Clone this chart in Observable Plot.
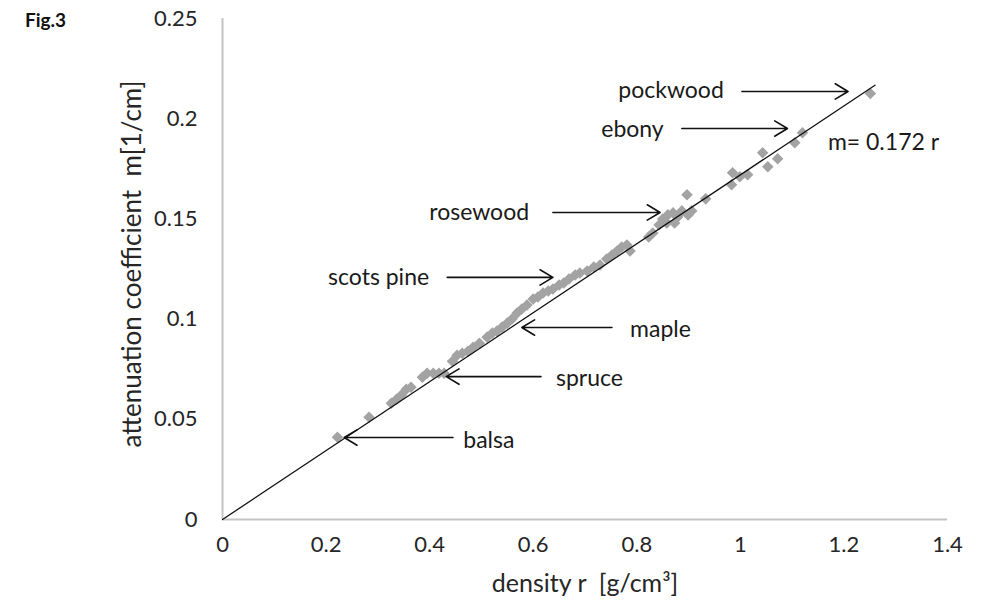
<!DOCTYPE html>
<html>
<head>
<meta charset="utf-8">
<script src="https://cdn.jsdelivr.net/npm/d3@7"></script>
<script src="https://cdn.jsdelivr.net/npm/@observablehq/plot@0.6"></script>
<style>
  body { margin: 0; background: #fff; font-family: Lato, "Open Sans", sans-serif; }
  #wrap { position: relative; width: 991px; height: 605px; }
  #fig { position: absolute; left: 25px; top: 8px; font: bold 19px Lato, sans-serif; color: #111; }
</style>
</head>
<body>
<div id="wrap"><div id="fig">Fig.3</div></div>
<script>
// measured samples: density (g/cm3) and attenuation coefficient (1/cm)
const density = [0.222,0.283,0.326,0.336,0.345,0.355,0.364,0.386,0.395,0.407,0.418,0.428,
  0.444,0.453,0.463,0.474,0.484,0.496,0.511,0.521,0.530,0.540,0.550,0.559,0.569,0.578,
  0.588,0.600,0.609,0.619,0.629,0.638,0.650,0.659,0.669,0.681,0.690,0.704,0.717,0.729,
  0.742,0.752,0.762,0.771,0.781,0.787,0.823,0.831,0.843,0.850,0.860,0.870,0.879,0.887,
  0.899,0.906,0.858,0.873,0.897,0.933,0.985,0.983,0.999,1.014,1.043,1.053,1.072,1.105,
  1.120,1.251];
const atten = [0.041,0.051,0.058,0.060,0.062,0.065,0.066,0.071,0.073,0.073,0.073,0.073,
  0.079,0.082,0.083,0.084,0.086,0.088,0.091,0.093,0.094,0.096,0.098,0.100,0.103,0.105,
  0.107,0.110,0.111,0.113,0.114,0.115,0.117,0.118,0.120,0.122,0.123,0.124,0.126,0.127,
  0.130,0.132,0.134,0.136,0.137,0.134,0.141,0.143,0.147,0.150,0.152,0.153,0.151,0.154,
  0.152,0.154,0.148,0.148,0.162,0.160,0.173,0.167,0.171,0.172,0.183,0.176,0.180,0.188,
  0.193,0.2126];

// fitted line m = 0.172 r
const fitD = [0, 1.26];
const fitM = [0, 0.2167];

// annotations
const woodNames  = ["pockwood","ebony","rosewood","scots pine","maple","spruce","balsa"];
const woodTextD  = [0.968, 0.852, 0.592, 0.399, 0.787, 0.644, 0.465];
const woodTextM  = [0.2138, 0.1946, 0.1532, 0.1208, 0.0945, 0.0705, 0.0395];
const woodAnchor = ["end","end","end","end","start","start","start"];
const arrowD1 = [1.003, 0.887, 0.638, 0.434, 0.752, 0.615, 0.445];
const arrowD2 = [1.208, 1.091, 0.845, 0.638, 0.578, 0.432, 0.235];
const arrowM  = [0.2136, 0.1951, 0.1532, 0.1208, 0.0958, 0.0713, 0.0409];

const eqText = "m= 0.172 r";
const eqD = [1.169], eqM = [0.188];

const xTicks = [0,0.2,0.4,0.6,0.8,1,1.2,1.4];
const yTicks = [0,0.05,0.1,0.15,0.2,0.25];
const xTitle = "density r  [g/cm³]";
const yTitle = "attenuation coefficient  m[1/cm]";

const pts = density.map((d, i) => ({d, m: atten[i]}));
const fit = fitD.map((d, i) => ({d, m: fitM[i]}));
const labels = woodNames.map((n, i) => ({n, d: woodTextD[i], m: woodTextM[i], a: woodAnchor[i]}));
const arrows = woodNames.map((n, i) => ({x1: arrowD1[i], x2: arrowD2[i], y: arrowM[i]}));

const fmt = v => String(v);

const chart = Plot.plot({
  width: 991,
  height: 605,
  marginLeft: 222,
  marginRight: 44,
  marginTop: 18,
  marginBottom: 86,
  style: {fontFamily: "Lato, 'Open Sans', sans-serif", background: "#fff"},
  x: {domain: [0, 1.4]},
  y: {domain: [0, 0.25]},
  marks: [
    Plot.axisX(xTicks, {tickFormat: fmt, tickSize: 0, tickPadding: 17, label: null, fontSize: 22, fill: "#262626"}),
    Plot.axisY(yTicks, {tickFormat: fmt, tickSize: 0, tickPadding: 25, label: null, fontSize: 22, fill: "#262626"}),
    Plot.ruleX([0], {stroke: "#c4c4c4", strokeWidth: 2}),
    Plot.ruleY([0], {stroke: "#c4c4c4", strokeWidth: 2}),
    Plot.dot(pts, {x: "d", y: "m", symbol: "diamond2", r: 5.2, fill: "#a3a3a3", stroke: "none"}),
    Plot.line(fit, {x: "d", y: "m", stroke: "#111", strokeWidth: 1.3}),
    Plot.arrow(arrows, {x1: "x1", x2: "x2", y1: "y", y2: "y", stroke: "#111", strokeWidth: 1.6, headLength: 14, headAngle: 62}),
    Plot.text(labels.filter(l => l.a === "end"), {x: "d", y: "m", text: "n", textAnchor: "end", fontSize: 23, fill: "#1a1a1a"}),
    Plot.text(labels.filter(l => l.a === "start"), {x: "d", y: "m", text: "n", textAnchor: "start", fontSize: 23, fill: "#1a1a1a"}),
    Plot.text([eqText], {x: eqD, y: eqM, textAnchor: "start", fontSize: 23, fill: "#1a1a1a"}),
    Plot.text([xTitle], {frameAnchor: "bottom", textAnchor: "middle", dy: 72, fontSize: 25, fill: "#262626"}),
    Plot.text([yTitle], {frameAnchor: "left", textAnchor: "middle", rotate: -90, dx: -90, dy: -5, fontSize: 26, fill: "#262626"})
  ]
});
document.getElementById("wrap").appendChild(chart);
</script>
</body>
</html>
